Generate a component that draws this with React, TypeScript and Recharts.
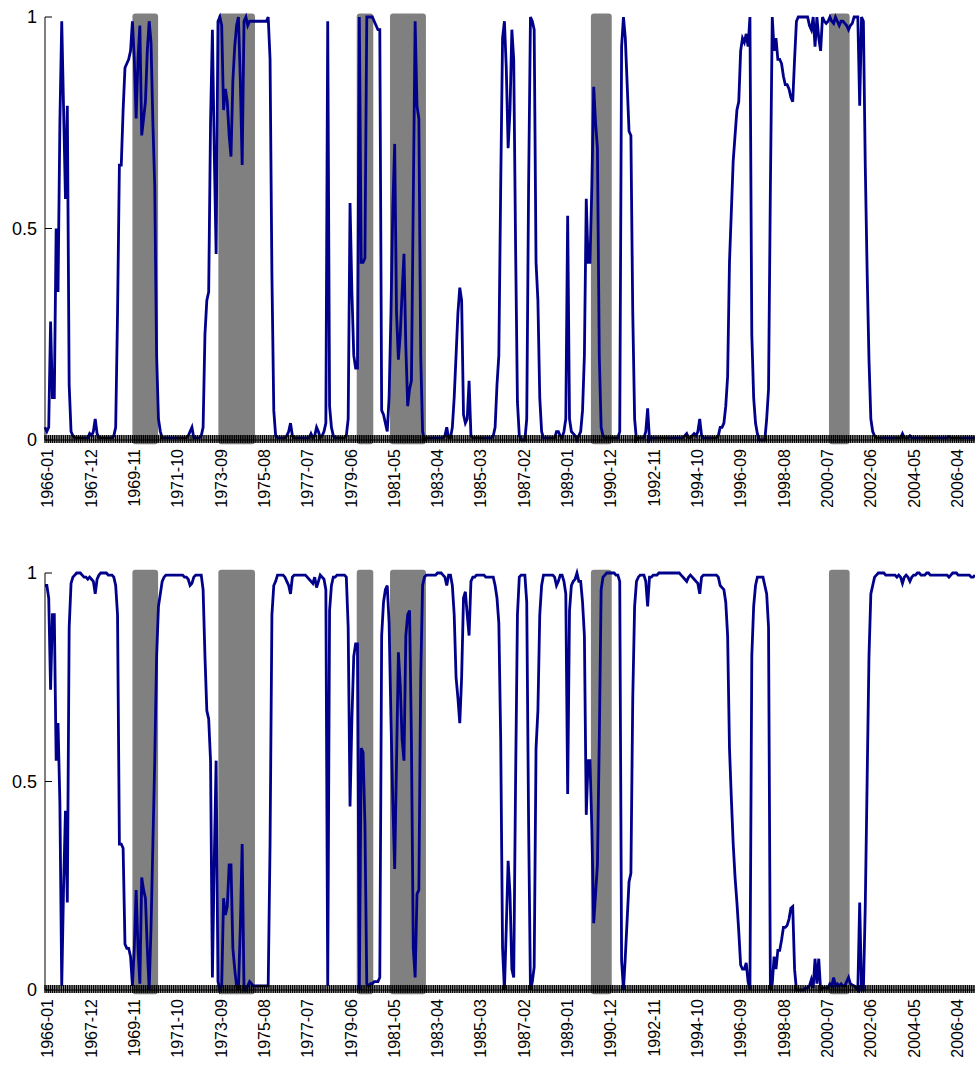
import { ComposedChart, Line, XAxis, YAxis, ReferenceArea } from "recharts";

// monthly series, 1966-01 .. 2007-09, one row per year
const upperProb = [
  0.03, 0.02, 0.03, 0.28, 0.1, 0.1, 0.5, 0.35, 0.75, 0.99, 0.78, 0.57,
  0.79, 0.13, 0.02, 0.01, 0.005, 0.005, 0.005, 0.005, 0.005, 0.005, 0.005, 0.005,
  0.015, 0.01, 0.02, 0.05, 0.015, 0.005, 0.005, 0.005, 0.005, 0.005, 0.005, 0.005,
  0.005, 0.01, 0.03, 0.3, 0.65, 0.65, 0.78, 0.88, 0.89, 0.9, 0.92, 0.99,
  0.9, 0.76, 0.9, 0.98, 0.72, 0.76, 0.8, 0.92, 0.99, 0.94, 0.75, 0.6,
  0.2, 0.05, 0.02, 0.005, 0.005, 0.005, 0.005, 0.005, 0.005, 0.005, 0.005, 0.005,
  0.005, 0.005, 0.005, 0.005, 0.005, 0.01, 0.02, 0.03, 0.005, 0.005, 0.005, 0.005,
  0.01, 0.03, 0.25, 0.33, 0.35, 0.75, 0.97, 0.68, 0.44, 0.99, 1, 0.98,
  0.78, 0.83, 0.8, 0.72, 0.67, 0.85, 0.93, 0.98, 1, 0.85, 0.65, 0.99,
  1, 0.98, 0.99, 0.99, 0.99, 0.99, 0.99, 0.99, 0.99, 0.99, 0.99, 0.99,
  1, 0.9, 0.39, 0.07, 0.01, 0.005, 0.005, 0.005, 0.005, 0.005, 0.01, 0.02,
  0.04, 0.01, 0.005, 0.005, 0.005, 0.005, 0.005, 0.005, 0.005, 0.005, 0.005, 0.015,
  0.005, 0.01, 0.03, 0.02, 0.005, 0.01, 0.02, 0.04, 0.99, 0.08, 0.03, 0.01,
  0.005, 0.005, 0.005, 0.005, 0.005, 0.005, 0.01, 0.05, 0.56, 0.35, 0.2, 0.17,
  0.17, 1, 0.42, 0.42, 0.43, 1, 1, 1, 1, 0.99, 0.98, 0.97,
  0.97, 0.07, 0.06, 0.04, 0.02, 0.1, 0.3, 0.55, 0.7, 0.3, 0.19, 0.25,
  0.35, 0.44, 0.22, 0.08, 0.12, 0.14, 0.57, 0.99, 0.79, 0.76, 0.2, 0.02,
  0, 0.005, 0.005, 0.005, 0.005, 0.005, 0.005, 0.005, 0.005, 0.005, 0.005, 0.01,
  0.03, 0.005, 0.005, 0.03, 0.1, 0.2, 0.3, 0.36, 0.33, 0.06, 0.04, 0.05,
  0.14, 0.01, 0.005, 0.005, 0.005, 0.005, 0.005, 0.005, 0.005, 0.005, 0.005, 0.005,
  0.005, 0.01, 0.03, 0.13, 0.2, 0.6, 0.95, 0.99, 0.88, 0.69, 0.78, 0.97,
  0.9, 0.46, 0.09, 0.01, 0, 0, 0, 0.05, 0.6, 1, 0.99, 0.97,
  0.42, 0.33, 0.1, 0.02, 0.005, 0.005, 0.005, 0.005, 0.005, 0.005, 0.005, 0.02,
  0.02, 0.01, 0.005, 0.02, 0.05, 0.53, 0.05, 0.02, 0.015, 0.01, 0, 0.01,
  0.02, 0.07, 0.2, 0.57, 0.42, 0.42, 0.6, 0.835, 0.75, 0.69, 0.2, 0.03,
  0.01, 0.005, 0.005, 0.005, 0.005, 0.005, 0.005, 0.005, 0.005, 0.02, 0.93, 1,
  0.95, 0.84, 0.73, 0.72, 0.3, 0.05, 0, 0.005, 0.005, 0.005, 0.005, 0.02,
  0.075, 0, 0.005, 0.005, 0.005, 0.005, 0.005, 0.005, 0.005, 0.005, 0.005, 0.005,
  0.005, 0.005, 0.005, 0.005, 0.005, 0.005, 0.005, 0.005, 0.01, 0.015, 0.005, 0.005,
  0.01, 0.015, 0.01, 0.02, 0.05, 0.01, 0.005, 0.005, 0.005, 0.005, 0.005, 0.005,
  0.005, 0.005, 0.01, 0.03, 0.03, 0.04, 0.08, 0.15, 0.42, 0.54, 0.66, 0.72,
  0.78, 0.8, 0.92, 0.95, 0.94, 0.96, 0.93, 1, 0.25, 0.1, 0.04, 0.015,
  0, 0, 0, 0, 0.05, 0.12, 0.6, 1, 0.92, 0.95, 0.9, 0.9,
  0.89, 0.86, 0.84, 0.84, 0.83, 0.81, 0.8, 0.9, 0.99, 1, 1, 1,
  1, 1, 1, 0.98, 0.97, 1, 0.93, 1, 0.95, 0.92, 1, 0.99,
  0.985, 0.99, 1, 0.99, 0.985, 1, 0.99, 0.98, 0.99, 0.99, 0.985, 0.98,
  0.97, 0.98, 0.985, 1, 1, 1, 0.79, 1, 0.99, 0.65, 0.4, 0.19,
  0.05, 0.02, 0.01, 0.005, 0.005, 0.005, 0.005, 0.005, 0.005, 0.005, 0.005, 0.005,
  0.005, 0.005, 0.005, 0.005, 0.005, 0.015, 0.005, 0.005, 0.005, 0.01, 0.005, 0.005,
  0.005, 0.005, 0.005, 0.005, 0.005, 0.005, 0.005, 0.005, 0.005, 0.005, 0.005, 0.005,
  0.005, 0.005, 0.005, 0.005, 0.005, 0.005, 0.008, 0.005, 0.005, 0.005, 0.005, 0.005,
  0.005, 0.005, 0.005, 0.005, 0.005, 0.005, 0.005, 0.005, 0.005,
];

const lowerProb = [
  0.97, 0.97, 0.94, 0.72, 0.9, 0.9, 0.55, 0.64, 0.45, 0.01, 0.25, 0.43,
  0.21, 0.87, 0.975, 0.99, 0.995, 1, 1, 1, 0.995, 0.99, 0.99, 0.985,
  0.99, 0.985, 0.98, 0.95, 0.985, 0.995, 1, 1, 1, 1, 0.995, 0.995,
  0.995, 0.99, 0.97, 0.9, 0.35, 0.35, 0.34, 0.11, 0.1, 0.1, 0.08, 0.01,
  0.1, 0.24, 0.1, 0.015, 0.27, 0.24, 0.22, 0.1, 0, 0.15, 0.35, 0.55,
  0.8, 0.92, 0.95, 0.98, 0.99, 0.995, 0.995, 0.995, 0.995, 0.995, 0.995, 0.995,
  0.995, 0.995, 0.995, 0.99, 0.99, 0.985, 0.97, 0.975, 0.99, 0.995, 0.995, 0.995,
  0.995, 0.96, 0.8, 0.67, 0.65, 0.55, 0.03, 0.31, 0.55, 0.02, 0, 0.01,
  0.22, 0.18, 0.2, 0.3, 0.3, 0.1, 0.05, 0.01, 0, 0.15, 0.35, 0,
  0, 0.01, 0.02, 0.015, 0.01, 0.01, 0.01, 0.01, 0.01, 0.01, 0.01, 0.01,
  0.01, 0.35, 0.9, 0.97, 0.98, 0.995, 0.995, 0.995, 0.995, 0.99, 0.98, 0.97,
  0.95, 0.99, 0.995, 0.995, 0.995, 0.995, 0.995, 0.995, 0.995, 0.99, 0.985, 0.98,
  0.975, 0.99, 0.965, 0.98, 0.995, 0.99, 0.985, 0.96, 0.01, 0.91, 0.97, 0.99,
  0.99, 0.995, 0.995, 0.995, 0.995, 0.995, 0.99, 0.87, 0.44, 0.65, 0.8, 0.83,
  0.83, 0, 0.58, 0.57, 0.4, 0.015, 0.01, 0.015, 0.015, 0.02, 0.02, 0.02,
  0.03, 0.85, 0.93, 0.96, 0.97, 0.88, 0.65, 0.45, 0.29, 0.55, 0.81, 0.73,
  0.6, 0.55, 0.85, 0.9, 0.91, 0.6, 0.1, 0.03, 0.23, 0.24, 0.75, 0.97,
  0.99, 0.995, 0.995, 0.995, 0.995, 0.995, 0.995, 1, 1, 1, 0.995, 0.99,
  0.97, 0.995, 0.995, 0.97, 0.9, 0.75, 0.7, 0.64, 0.75, 0.94, 0.955, 0.9,
  0.85, 0.98, 0.99, 0.99, 0.995, 0.995, 0.995, 0.995, 0.995, 0.99, 0.99, 0.99,
  0.99, 0.99, 0.97, 0.94, 0.88, 0.6, 0.1, 0, 0.15, 0.31, 0.23, 0.05,
  0.03, 0.5, 0.9, 0.99, 0.995, 0.995, 0.995, 0.93, 0.4, 0, 0.02, 0.055,
  0.58, 0.67, 0.9, 0.97, 0.995, 0.995, 0.995, 0.995, 0.995, 0.995, 0.99, 0.97,
  0.98, 0.995, 0.995, 0.98, 0.95, 0.47, 0.91, 0.97, 0.98, 0.985, 1, 0.98,
  0.98, 0.93, 0.85, 0.42, 0.55, 0.55, 0.39, 0.16, 0.23, 0.3, 0.6, 0.96,
  0.99, 0.995, 1, 1, 1, 1, 1, 0.995, 0.995, 0.98, 0.07, 0,
  0.08, 0.17, 0.26, 0.28, 0.7, 0.92, 0.98, 0.99, 0.995, 0.995, 0.995, 0.98,
  0.92, 0.99, 0.99, 0.995, 0.995, 0.995, 1, 1, 1, 1, 1, 1,
  1, 1, 1, 1, 1, 1, 0.995, 0.99, 0.985, 0.98, 0.99, 0.995,
  0.99, 0.985, 0.98, 0.975, 0.95, 0.99, 0.995, 0.995, 0.995, 0.995, 0.995, 0.995,
  0.995, 0.995, 0.99, 0.97, 0.965, 0.96, 0.93, 0.85, 0.58, 0.46, 0.35, 0.27,
  0.21, 0.14, 0.06, 0.05, 0.05, 0.065, 0.02, 0, 0.8, 0.92, 0.97, 0.99,
  0.99, 0.99, 0.99, 0.97, 0.95, 0.87, 0, 0.015, 0.08, 0.05, 0.095, 0.095,
  0.12, 0.15, 0.15, 0.155, 0.17, 0.196, 0.2, 0.05, 0, 0, 0, 0,
  0, 0.005, 0.005, 0.01, 0.025, 0.005, 0.075, 0.015, 0.075, 0, 0.005, 0.005,
  0.005, 0.005, 0.015, 0.01, 0.03, 0.01, 0.015, 0.01, 0.015, 0.01, 0.01, 0.02,
  0.03, 0.015, 0.012, 0.01, 0.005, 0, 0.21, 0, 0, 0.2, 0.5, 0.8,
  0.95, 0.97, 0.99, 0.995, 1, 1, 1, 1, 0.995, 0.995, 0.995, 0.995,
  0.995, 0.995, 0.99, 0.995, 0.99, 0.975, 0.99, 0.995, 0.99, 0.98, 0.99, 0.995,
  0.995, 1, 1, 0.995, 0.995, 0.995, 1, 1, 0.995, 0.995, 0.995, 0.995,
  0.995, 0.995, 0.995, 0.995, 0.995, 0.995, 0.99, 0.995, 1, 1, 1, 0.995,
  0.995, 0.995, 0.995, 0.995, 0.995, 0.995, 0.99, 0.99, 0.995,
];

const tickLabels = [
  "1966-01", "1967-12", "1969-11", "1971-10", "1973-09", "1975-08",
  "1977-07", "1979-06", "1981-05", "1983-04", "1985-03", "1987-02",
  "1989-01", "1990-12", "1992-11", "1994-10", "1996-09", "1998-08",
  "2000-07", "2002-06", "2004-05", "2006-04",
];

// shaded periods, in months since 1966-01
const bandStart = [47, 93.2, 167.6, 185.5, 293.5, 421.5];
const bandEnd = [60.8, 112.9, 176.5, 204.8, 304.7, 432.6];

const monthOf = (label: string) => {
  const [y, m] = label.split("-").map(Number);
  return (y - 1966) * 12 + (m - 1);
};

// the date labels sit on a slightly wider grid than the data in the original
const LABEL_SHIFT = 1.6;
const LABEL_STRETCH = 1.0122;

const rows = upperProb.map((v, i) => ({ t: i, upper: v, lower: lowerProb[i] }));
const monthTicks = rows.map((r) => r.t);
const labelTicks = tickLabels.map((l) => LABEL_SHIFT + monthOf(l) * LABEL_STRETCH);
const labelAt = new Map(labelTicks.map((p, k) => [p, tickLabels[k]]));
const allTicks = [...monthTicks, ...labelTicks];

const FONT = "'Liberation Sans', Arial, Helvetica, sans-serif";
const AXIS_H = 90;
const TOP_PAD = 17;

const MonthTick = (props: any) => {
  const { x, y, payload } = props;
  const label = labelAt.get(payload.value);
  if (!label) {
    return <line x1={x} x2={x} y1={y - 5} y2={y + 3} stroke="#000" strokeWidth={1.4} />;
  }
  const ly = y + 9;
  return (
    <text
      x={x}
      y={ly}
      transform={`rotate(-90 ${x} ${ly})`}
      textAnchor="end"
      dominantBaseline="central"
      fontSize={16}
      fontFamily={FONT}
      fill="#000"
    >
      {label}
    </text>
  );
};

const ValueTick = (props: any) => {
  const { x, y, payload } = props;
  return (
    <g>
      <line x1={x} x2={x + 7} y1={y} y2={y} stroke="#000" strokeWidth={1} />
      <text
        x={x - 8}
        y={y}
        textAnchor="end"
        dominantBaseline="central"
        fontSize={18}
        fontFamily={FONT}
        fill="#000"
      >
        {String(payload.value)}
      </text>
    </g>
  );
};

const RoundBand = (props: any) => {
  const { x, y, width, height } = props;
  return <rect x={x} y={y} width={width} height={height} rx={3} ry={3} fill="#808080" />;
};

const Panel = ({ dataKey, top, plotHeight }: { dataKey: string; top: number; plotHeight: number }) => (
  <div style={{ position: "absolute", left: 0, top }}>
    <ComposedChart
      width={975}
      height={TOP_PAD + plotHeight + AXIS_H}
      data={rows}
      margin={{ top: TOP_PAD, right: 0, bottom: 0, left: 0 }}
    >
      <XAxis
        dataKey="t"
        type="number"
        domain={[0, 500]}
        ticks={allTicks}
        interval={0}
        tick={<MonthTick />}
        tickLine={false}
        tickSize={0}
        tickMargin={0}
        height={AXIS_H}
        axisLine={{ stroke: "#000" }}
      />
      <YAxis
        type="number"
        domain={[0, 1]}
        ticks={[0, 0.5, 1]}
        width={45}
        axisLine={{ stroke: "#000" }}
        tickLine={false}
        tickSize={0}
        tickMargin={0}
        tick={<ValueTick />}
      />
      {bandStart.map((s, k) => (
        <ReferenceArea
          key={k}
          x1={s}
          x2={bandEnd[k]}
          y1={-0.01}
          y2={1.008}
          ifOverflow="visible"
          shape={RoundBand}
        />
      ))}
      <Line
        dataKey={dataKey}
        type="linear"
        stroke="#00008b"
        strokeWidth={2.8}
        dot={false}
        isAnimationActive={false}
      />
    </ComposedChart>
  </div>
);

export default function App() {
  return (
    <div style={{ position: "absolute", left: 0, top: 0, width: 975, height: 1073, background: "#fff", fontFamily: FONT }}>
      <Panel dataKey="upper" top={0} plotHeight={423} />
      <Panel dataKey="lower" top={556} plotHeight={417} />
    </div>
  );
}
